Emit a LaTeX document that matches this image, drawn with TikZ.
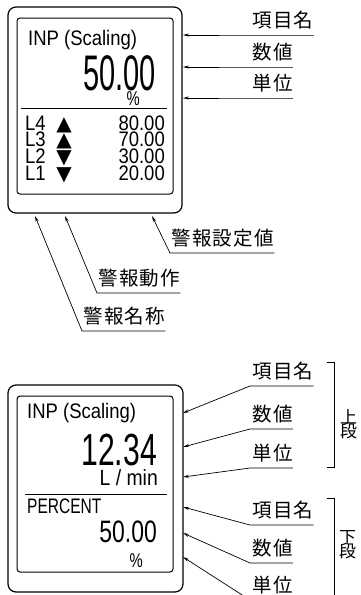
\documentclass[tikz,border=0pt]{standalone}
\usepackage{fontspec}
\setmainfont{Liberation Sans}
\newfontfamily\jpfont[LetterSpace=7]{Noto Sans CJK JP}
\newfontfamily\jpstack{Noto Sans CJK JP}
\newfontfamily\condsmall[FakeStretch=0.88]{Liberation Sans}
\newfontfamily\condmid[FakeStretch=0.74]{Liberation Sans}
\newfontfamily\condbig[FakeStretch=0.67]{Liberation Sans}
\newfontfamily\condhuge[FakeStretch=0.58]{Liberation Sans}
\newfontfamily\symfont{DejaVu Sans}
\usetikzlibrary{arrows.meta,positioning}

\begin{document}
\begin{tikzpicture}[x=1pt,y=-1pt,
		case/.style={draw,line width=1.2pt,rounded corners=8pt},
		screen/.style={draw,line width=1pt,rounded corners=3pt},
		txt/.style={inner sep=0pt,anchor=base west},
		num/.style={inner sep=0pt,anchor=base east},
		small/.style={font=\condsmall\fontsize{21}{21}\selectfont},
		lbl/.style={inner sep=0pt,font=\jpfont\fontsize{19.5}{19.5}\selectfont},
		stack/.style={inner sep=0pt,anchor=base,font=\jpstack\fontsize{17}{17}\selectfont},
		leader/.style={line width=0.7pt,-{Stealth[length=6pt,width=3pt]}},
		brk/.style={line width=0.8pt}]
	\useasboundingbox (0,0) rectangle (361,595);

	% upper display: alarm screen
	\draw[case] (8,7) rectangle (182,213);
	\draw[screen] (17,18) rectangle (173,194);
	\draw[line width=0.8pt] (21,108) -- (167,108);
	\node[txt,small] (nameA) at (28,45) {INP (Scaling)};
	\node[num,font=\condhuge\fontsize{50}{50}\selectfont] (valA) at (156,90) {50.00};
	\node[num,font=\condmid\fontsize{20}{20}\selectfont] (unitA) at (140,105) {\%};
	\foreach \n/\mk/\v [count=\i] in {4/▲/80.00,3/▲/70.00,2/▼/30.00,1/▼/20.00}{
		\pgfmathsetmacro{\yb}{113.3+16.7*\i}
		\node[txt,small] (lvl\n) at (25,\yb) {L\n};
		\node[inner sep=0pt,anchor=base,font=\symfont\fontsize{20}{20}\selectfont] (dir\n) at (64,\yb) {\mk};
		\node[num,small] (set\n) at (165,\yb) {\v};
	}

	% labels of the upper display
	\foreach \id/\ty/\by/\txt in {A1/35/35/項目名,A2/67/67/数値,A3/98/98/単位}{
		\coordinate (tip\id) at (183,\ty);
		\coordinate (bend\id) at (250,\by);
		\node[lbl,above right=6pt and 2pt of bend\id] (item\id) {\txt};
		\draw[leader] (item\id.east |- bend\id) -- (bend\id) -- (tip\id);
	}
	\foreach \id/\tx/\bx/\by/\txt in {B1/35/82/331/警報名称,B2/65/97/293/警報動作,B3/152/170/253/警報設定値}{
		\coordinate (tip\id) at (\tx,216);
		\coordinate (bend\id) at (\bx,\by);
		\node[lbl,above right=6pt and 1pt of bend\id] (item\id) {\txt};
		\draw[leader] (item\id.east |- bend\id) -- (bend\id) -- (tip\id);
	}

	% lower display: two rows
	\draw[case] (8,385) rectangle (183,592);
	\draw[screen] (17,396) rectangle (173,572);
	\draw[line width=0.8pt] (25,494) -- (167,494);
	\node[txt,small] (nameB) at (27,418) {INP (Scaling)};
	\node[num,font=\condbig\fontsize{45}{45}\selectfont] (valB) at (157,465) {12.34};
	\node[num,font=\condsmall\fontsize{22}{22}\selectfont] (unitB) at (158,485) {L / min};
	\node[txt,font=\condmid\fontsize{21}{21}\selectfont] (nameC) at (27,513) {PERCENT};
	\node[num,font=\condmid\fontsize{31}{31}\selectfont] (valC) at (157,542) {50.00};
	\node[num,font=\condmid\fontsize{20}{20}\selectfont] (unitC) at (143,567) {\%};

	% labels of the lower display
	\foreach \id/\ty/\by/\txt in {C1/413/386/項目名,C2/447/429/数値,C3/477/468/単位,D1/507/525/項目名,D2/533/563/数値,D3/557/600/単位}{
		\coordinate (tip\id) at (183,\ty);
		\coordinate (bend\id) at (250,\by);
		\node[lbl,above right=6pt and 2pt of bend\id] (item\id) {\txt};
		\draw[leader] (item\id.east |- bend\id) -- (bend\id) -- (tip\id);
	}
	\draw[brk] (327,362) -- (334,362) -- (334,467) -- (327,467);
	\draw[brk] (327,498) -- (334,498) -- (334,600);
	\node[stack] (upperA) at (348.5,423) {上};
	\node[stack] (upperB) at (348.5,437) {段};
	\node[stack] (lowerA) at (347.5,543) {下};
	\node[stack] (lowerB) at (347.5,557) {段};
\end{tikzpicture}
\end{document}
